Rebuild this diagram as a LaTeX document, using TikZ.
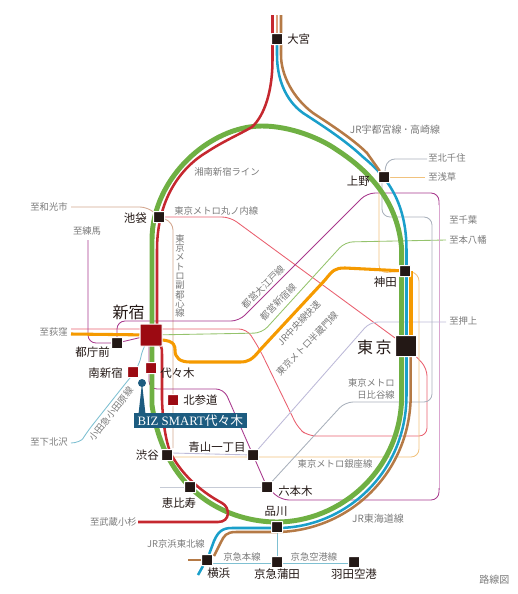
\documentclass[tikz,border=0pt]{standalone}
\usepackage{fontspec}
\usepackage{xcolor}
\usetikzlibrary{backgrounds}
\setmainfont{Noto Sans CJK JP}
\newfontfamily\bizfont{Liberation Serif}
\definecolor{inkblack}{HTML}{231815}
\definecolor{inkgray}{HTML}{7A7A7A}
\definecolor{stared}{HTML}{9C0A12}
\definecolor{bizblue}{HTML}{1D5C80}
\definecolor{yamanote}{HTML}{6FB043}
\definecolor{keihin}{HTML}{1A9FCA}
\definecolor{tokaido}{HTML}{B57A46}
\definecolor{tanstub}{HTML}{DDA27C}
\definecolor{shonan}{HTML}{C5282F}
\definecolor{chuo}{HTML}{F59A00}
\definecolor{oedo}{HTML}{A8398D}
\definecolor{oedolight}{HTML}{DAA6CF}
\definecolor{maru}{HTML}{E9606F}
\definecolor{fuku}{HTML}{D3A68E}
\definecolor{ginza}{HTML}{F1C27D}
\definecolor{hibiya}{HTML}{A9B1BC}
\definecolor{hanzo}{HTML}{BDBAD8}
\definecolor{toeishin}{HTML}{95C36D}
\definecolor{odakyu}{HTML}{7FC0D2}
\definecolor{ebisuline}{HTML}{C6CBD6}
\tikzset{
  sta/.style={fill=inkblack,draw=white,line width=0.75pt,minimum size=8.25pt,inner sep=0pt,rounded corners=0.3pt},
  stared/.style={sta,fill=stared},
  stname/.style={text=inkblack,font=\fontsize{8.6}{10}\selectfont,inner sep=0pt},
  lbl/.style={text=inkgray,font=\fontsize{7}{8.4}\selectfont,inner sep=0pt},
  lblwide/.style={lbl,font=\fontsize{7.5}{9}\selectfont},
  thinline/.style={line width=0.65pt,rounded corners=6pt},
  mainline/.style={line width=1.9pt}
}
\begin{document}
\begin{tikzpicture}[x=0.75pt,y=-0.75pt]
  \useasboundingbox (0,0) rectangle (518,594);
  % stations
  \node[sta] (omiya) at (277,39) {};
  \node[sta] (ueno) at (384,177) {};
  \node[sta] (kanda) at (405,271) {};
  \node[sta,minimum size=15.75pt] (tokyo) at (406,346) {};
  \node[sta] (ikebukuro) at (159,217) {};
  \node[stared,minimum size=16.5pt] (shinjuku) at (151,335) {};
  \node[sta] (tochomae) at (117,343) {};
  \node[stared] (minamishinjuku) at (133,372) {};
  \node[stared] (yoyogi) at (151,368) {};
  \node[stared] (kitasando) at (173,400) {};
  \node[sta] (shibuya) at (167,455) {};
  \node[sta] (aoyama) at (253,455) {};
  \node[sta] (ebisu) at (190,487) {};
  \node[sta] (roppongi) at (267,487) {};
  \node[sta] (shinagawa) at (277,527) {};
  \node[sta] (yokohama) at (207,560) {};
  \node[sta] (kamata) at (277,562) {};
  \node[sta] (haneda) at (354,562) {};
  % free ends
  \coordinate (wako) at (71,207);
  \coordinate (nerima) at (88,240);
  \coordinate (ogikubo) at (71,334);
  \coordinate (shimokita) at (71,443);
  \coordinate (kosugi) at (138,522);
  \coordinate (kitasenju) at (427,159);
  \coordinate (asakusa) at (425,177);
  \coordinate (motoyawata) at (446,240);
  \coordinate (oshiage) at (446,322);
  \begin{scope}[on background layer]
    % thin subway lines
    \draw[thinline,fuku] (wako) -- (148,207) -- (ikebukuro);
    \draw[thinline,fuku] (ikebukuro) -- (173,222) -- (173,300) -- (kitasando) -- (173,448);
    \draw[thinline,maru] (ogikubo |- 0,329) -- (247,329) -- (260,350) -- (298,428) -- (308,436) -- (427,436) -- (427,368) -- (tokyo);
    \draw[thinline,maru] (ikebukuro) -- (230,217) -- (tokyo);
    \draw[thinline,toeishin] (shinjuku) -- (262,333) -- (345,242) -- (motoyawata);
    \draw[thinline,oedo] (nerima) -- (88,343) -- (tochomae) -- (shinjuku);
    \draw[thinline,oedo] (tochomae) -- (117,321) -- (239,321) -- (367,193) -- (439,193) -- (439,205);
    \draw[thinline,oedolight] (439,203) -- (439,490);
    \draw[thinline,oedo] (439,488) -- (439,500) -- (281,500) -- (roppongi) -- (aoyama) -- (224,389) -- (149,389) -- (149,340);
    \draw[thinline,hanzo] (172,453) -- (aoyama) -- (370,322) -- (oshiage);
    \draw[thinline,ginza] (172,457) -- (419,457) -- (419,273) -- (kanda);
    \draw[thinline,ginza] (kanda) -- (379,273) -- (ueno -| 379,0);
    \draw[thinline,ginza] (ueno) -- (asakusa);
    \draw[thinline,hibiya] (kitasenju) -- (387,159) -- (ueno);
    \draw[thinline,hibiya] (ueno -| 382,0) -- (382,217) -- (432,217) -- (432,402) -- (345,402) -- (roppongi);
    \draw[thinline,ebisuline] (160,487) -- (ebisu) -- (roppongi);
    \draw[thinline,odakyu] (shinjuku) -- (142,350) .. controls (140,362) and (135,372) .. (129,379) -- (87,432) .. controls (82,440) and (77,443) .. (shimokita);
    \draw[thinline,odakyu] (shinagawa) -- (kamata);
    \draw[thinline,odakyu] (212,563) -- (haneda |- 0,563);
    % main lines
    \draw[line width=3.7pt,yamanote] (401.7,300) -- (401.7,250) .. controls (398,195) and (360,165) .. (337,150) .. controls (320,138) and (290,126) .. (262,126) .. controls (210,126) and (152,178) .. (152,240) -- (152,405) .. controls (165,495) and (230,522) .. (277,522) .. controls (340,522) and (401.7,470) .. (401.7,395) -- cycle;
    \draw[mainline,keihin] (omiya) -- (277,55) .. controls (277,78) and (285,100) .. (303,113) .. controls (320,124) and (345,140) .. (363,157) .. controls (385,175) and (406.5,200) .. (406.5,250) -- (406.5,395) .. controls (406.5,473) and (345,528) .. (277,528) -- (232,528) .. controls (222,528) and (218,532) .. (214,541) -- (yokohama);
    \draw[mainline,keihin] (203,566) -- (198,575);
    \draw[mainline,tokaido] (281,15) -- (281,55) .. controls (281,75) and (293,98) .. (313,113) .. controls (325,121) and (352,138) .. (367,153) -- (ueno);
    \draw[mainline,tanstub] (277,15) -- (omiya);
    \draw[mainline,tokaido] (410.7,346) -- (410.7,395) .. controls (410.7,472) and (350,531) .. (277,532) -- (236,532) .. controls (226,532) and (224,536) .. (221,542) -- (214,556);
    \draw[mainline,tokaido] (188,560) -- (yokohama);
    \draw[mainline,shonan] (272.5,15) -- (272.5,34);
    \draw[mainline,shonan] (272.5,44) -- (272.5,60) .. controls (272.5,90) and (265,115) .. (252,127) .. controls (240,134) and (222,142) .. (207,152) .. controls (180,168) and (157,200) .. (157,250) -- (shinjuku -| 157,0);
    \draw[mainline,shonan] (160,345) .. controls (162,347) and (162,350) .. (162,356) -- (162,400) .. controls (163,425) and (166,440) .. (170,452) .. controls (180,472) and (198,490) .. (222,503) .. controls (230,507) and (231,522) .. (218,522) -- (kosugi);
    \draw[line width=2.3pt,chuo] (kanda) -- (345,268) .. controls (335,268) and (333,270) .. (325,280) -- (260,350) .. controls (252,360) and (248,362) .. (240,362) -- (190,362) .. controls (180,362) and (175,358) .. (175,350) .. controls (175,348) and (176,340) .. (160,340);
    \draw[line width=2.3pt,chuo] (ogikubo) -- (shinjuku);
    \draw[line width=2.3pt,chuo] (411,271) -- (411,346);
  \end{scope}
  % pin for the building
  \node[circle,fill=bizblue,inner sep=0pt,minimum size=6pt] (bizdot) at (142,383) {};
  \fill[bizblue] (bizdot.center) -- (138.5,414) -- (145.5,414) -- cycle;
  \node[fill=bizblue,text=white,minimum width=85pt,minimum height=11.2pt,inner sep=0pt] (bizlabel) at (190.5,420.5) {\fontsize{9.6}{10}\selectfont\bizfont BIZ SMART\rmfamily 代々木};
  % station names
  \node[stname,anchor=west] (nomiya) at (287,39) {大宮};
  \node[stname,anchor=east] (nueno) at (370,181) {上野};
  \node[stname,anchor=east] (nkanda) at (397,282) {神田};
  \node[stname,anchor=east,font=\fontsize{12}{14}\selectfont] (ntokyo) at (392,347) {東\,京};
  \node[stname,anchor=east] (nikebukuro) at (147,218) {池袋};
  \node[stname,anchor=east,font=\fontsize{12}{14}\selectfont] (nshinjuku) at (145,312) {新宿};
  \node[stname,anchor=east] (ntochomae) at (110,352) {都庁前};
  \node[stname,anchor=east] (nminami) at (123,373) {南新宿};
  \node[stname,anchor=west] (nyoyogi) at (160,373) {代々木};
  \node[stname,anchor=west] (nkitasando) at (183,400) {北参道};
  \node[stname,anchor=east] (nshibuya) at (159,455) {渋谷};
  \node[stname] (naoyama) at (217,447) {青山一丁目};
  \node[stname] (nebisu) at (179,503) {恵比寿};
  \node[stname,anchor=west] (nroppongi) at (278,491) {六本木};
  \node[stname] (nshinagawa) at (276,511) {品川};
  \node[stname,anchor=west] (nyokohama) at (207,573) {横浜};
  \node[stname] (nkamata) at (277,574) {京急蒲田};
  \node[stname] (nhaneda) at (354,574) {羽田空港};
  % line names
  \node[lbl] (lshonan) at (227,172) {湘南新宿ライン};
  \node[lbl,anchor=west] (lmaru) at (174,211) {東京メトロ丸ノ内線};
  \node[lbl,align=center,font=\fontsize{7}{7}\selectfont] (lfuku) at (180,276) {東\\京\\メ\\ト\\ロ\\副\\都\\心\\線};
  \node[lbl,rotate=45] (loedo) at (263,287) {都営大江戸線};
  \node[lbl,rotate=45] (lshin) at (278,302) {都営新宿線};
  \node[lbl,rotate=47] (lchuo) at (299,323) {JR中央線快速};
  \node[lbl,rotate=46] (lhanzo) at (307,344) {東京メトロ半蔵門線};
  \node[lbl,rotate=52] (lodakyu) at (111,414) {小田急小田原線};
  \node[lblwide] (lutsu) at (395,130) {JR宇都宮線\,･\,高崎線};
  \node[lbl,anchor=east,align=right] (lhibiya) at (395,389) {東京メトロ\\日比谷線};
  \node[lbl] (lginza) at (335,464) {東京メトロ銀座線};
  \node[lblwide] (ltokai) at (378,519) {JR東海道線};
  \node[lbl] (lkeihin) at (176,544) {JR京浜東北線};
  \node[lbl] (lkeikyu) at (242,557) {京急本線};
  \node[lbl] (lkuko) at (314,557) {京急空港線};
  % destinations
  \node[lbl,anchor=east] (dwako) at (68,207) {至和光市};
  \node[lbl] (dnerima) at (87,231) {至練馬};
  \node[lbl,anchor=east] (dogikubo) at (68,332) {至荻窪};
  \node[lbl,anchor=east] (dshimokita) at (68,442) {至下北沢};
  \node[lbl,anchor=east] (dkosugi) at (137,522) {至武蔵小杉};
  \node[lbl,anchor=west] (dkitasenju) at (428,158) {至北千住};
  \node[lbl,anchor=west] (dasakusa) at (428,177) {至浅草};
  \node[lbl,anchor=west] (dchiba) at (449,220) {至千葉};
  \node[lbl,anchor=west] (dmoto) at (449,240) {至本八幡};
  \node[lbl,anchor=west] (doshiage) at (449,321) {至押上};
  \node[lblwide,anchor=west] (lroute) at (479,580) {路線図};
\end{tikzpicture}
\end{document}
